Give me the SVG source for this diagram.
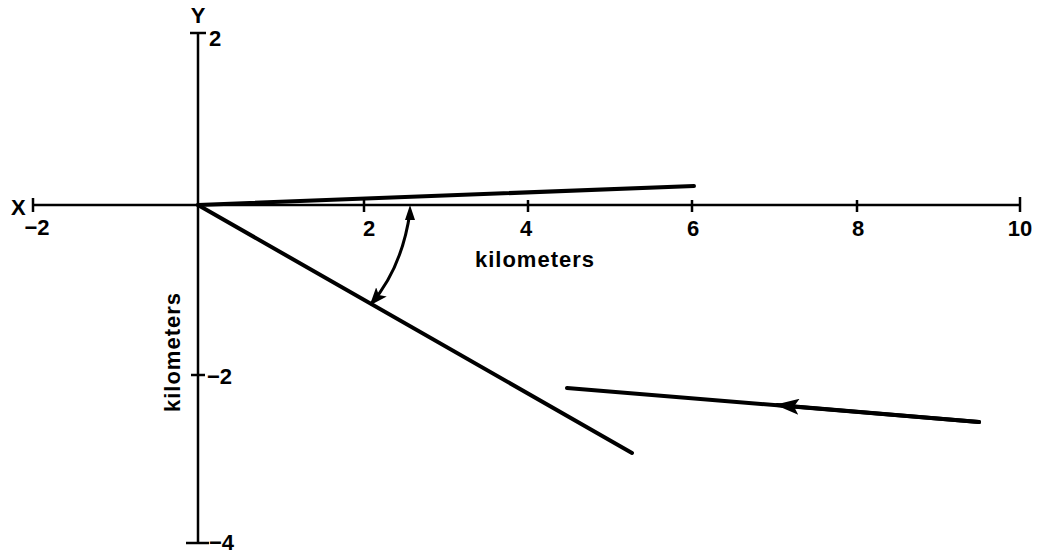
<svg xmlns="http://www.w3.org/2000/svg" width="1039" height="554" viewBox="0 0 1039 554">
<style>
.ax{stroke:#000;stroke-width:2.5;fill:none}
.ln{stroke:#000;stroke-width:4;fill:none;stroke-linecap:round}
.t{font-family:"Liberation Sans",Arial,sans-serif;font-weight:bold;font-size:22px;fill:#000}
.k{letter-spacing:1px}
</style>
<defs>
<marker id="ah" markerWidth="24" markerHeight="16" refX="22" refY="8" orient="auto" markerUnits="userSpaceOnUse">
<path d="M0,0 L24,8 L0,16 L5,8 Z" fill="#000"/>
</marker>
<marker id="ah2" markerWidth="18" markerHeight="14" refX="16" refY="7" orient="auto" markerUnits="userSpaceOnUse">
<path d="M0,0 L18,7 L0,14 L4,7 Z" fill="#000"/>
</marker>
</defs>
<rect width="1039" height="554" fill="#fff"/>
<g id="axes">
<line class="ax" x1="33" y1="205" x2="1020" y2="205"/>
<line class="ax" x1="33" y1="198" x2="33" y2="212"/>
<line class="ax" x1="1020" y1="197" x2="1020" y2="212"/>
<line class="ax" x1="364" y1="200" x2="364" y2="212"/>
<line class="ax" x1="528" y1="200" x2="528" y2="212"/>
<line class="ax" x1="692" y1="200" x2="692" y2="212"/>
<line class="ax" x1="857" y1="200" x2="857" y2="212"/>
<line class="ax" x1="198" y1="33" x2="198" y2="543"/>
<line class="ax" x1="190" y1="33" x2="206" y2="33"/>
<line class="ax" x1="191" y1="375" x2="205" y2="375"/>
<line class="ax" x1="186" y1="543" x2="209" y2="543"/>
</g>
<g id="labels">
<text class="t" x="11" y="215">X</text>
<text class="t" x="37" y="235" text-anchor="middle">−2</text>
<text class="t" x="198" y="23" text-anchor="middle">Y</text>
<text class="t" x="209" y="46">2</text>
<text class="t" x="369" y="236" text-anchor="middle">2</text>
<text class="t" x="526" y="236" text-anchor="middle">4</text>
<text class="t" x="693" y="236" text-anchor="middle">6</text>
<text class="t" x="858" y="236" text-anchor="middle">8</text>
<text class="t" x="1020" y="236" text-anchor="middle">10</text>
<text class="t k" x="535" y="267" text-anchor="middle">kilometers</text>
<text class="t k" x="0" y="0" text-anchor="middle" transform="translate(180,352) rotate(-90)">kilometers</text>
<text class="t" x="207" y="384">−2</text>
<text class="t" x="209" y="550">−4</text>
</g>
<g id="connectors">
<line class="ln" x1="198" y1="205" x2="694" y2="186"/>
<line class="ln" x1="198" y1="205" x2="632" y2="453"/>
<line class="ln" x1="979" y1="422" x2="567" y2="388"/>
<line class="ln" x1="979" y1="422" x2="777" y2="405" marker-end="url(#ah)"/>
<path d="M410,212 Q402,268 371,304" stroke="#000" stroke-width="3" fill="none" marker-end="url(#ah2)"/>
<path d="M405,220 L410,205 L415,220 Z" fill="#000"/>
</g>
</svg>
